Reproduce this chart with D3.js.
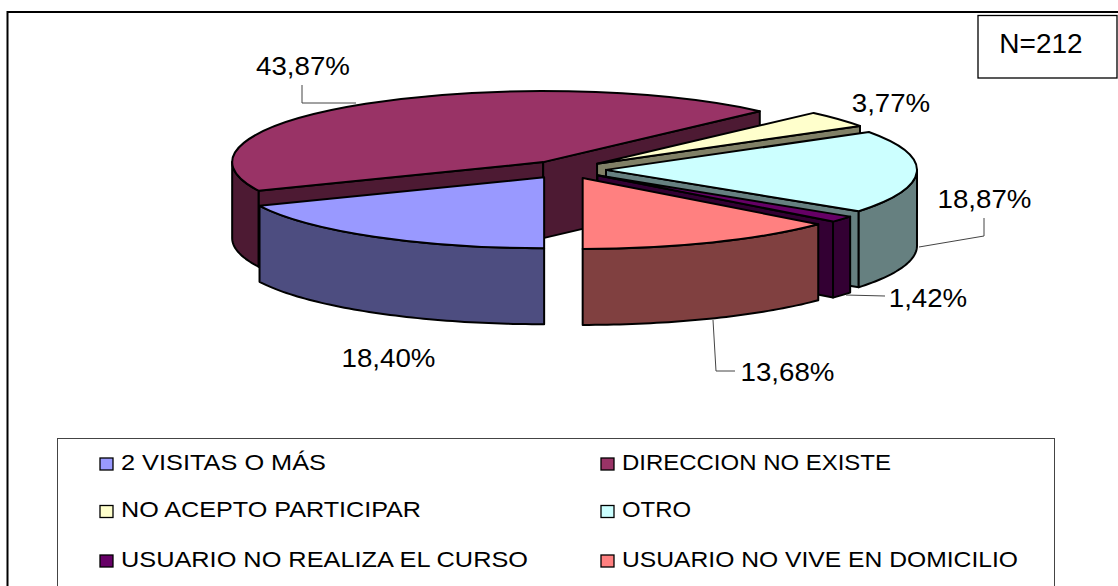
<!DOCTYPE html>
<html>
<head>
<meta charset="utf-8">
<script src="https://cdn.jsdelivr.net/npm/d3@7/dist/d3.min.js"></script>
<style>
html,body{margin:0;padding:0;background:#fff;overflow:hidden}
svg{display:block}
text{font-family:"Liberation Sans",Arial,sans-serif;fill:#000}
</style>
</head>
<body>
<svg id="chart" width="1118" height="586"></svg>
<script>
const categories = ["2 VISITAS O MÁS","DIRECCION NO EXISTE","NO ACEPTO PARTICIPAR","OTRO","USUARIO NO REALIZA EL CURSO","USUARIO NO VIVE EN DOMICILIO"];
const values = [18.40,43.87,3.77,18.87,1.42,13.68];
const valueLabels = ["18,40%","43,87%","3,77%","18,87%","1,42%","13,68%"];
const topColors = ["#9999FF","#993366","#FFFFCC","#CCFFFF","#660066","#FF8080"];
const sideColors = ["#4D4D80","#4D1A33","#808066","#668080","#330033","#804040"];
const drawOrder = [1,2,3,4,5,0];

const svg = d3.select("#chart");
const cx=566, cy=169.6, rx=311, ry=71, depth=76, explode=40;
const tilt=ry/rx;

const slices = d3.pie().sort(null).startAngle(Math.PI).endAngle(3*Math.PI)(values);
const arcGen = d3.arc().innerRadius(0).outerRadius(rx);
const lineGen = d3.line();

function apex(s){
  const m=(s.startAngle+s.endAngle)/2;
  return [cx+explode*Math.sin(m), cy-explode*tilt*Math.cos(m)];
}
function pt(a,ang,dz){ return [a[0]+rx*Math.sin(ang), a[1]-ry*Math.cos(ang)+(dz||0)]; }
function outerWall(a,a0,a1){
  const n=Math.max(2,Math.ceil((a1-a0)/0.02));
  const top=d3.range(n+1).map(i=>pt(a,a0+(a1-a0)*i/n,0));
  const bot=top.slice().reverse().map(p=>[p[0],p[1]+depth]);
  return lineGen(top.concat(bot))+"Z";
}
function radialWall(a,ang){
  const e=pt(a,ang,0);
  return lineGen([a,e,[e[0],e[1]+depth],[a[0],a[1]+depth]])+"Z";
}
const lw=2;
const pie=svg.append("g").attr("stroke","#000").attr("stroke-width",lw).attr("stroke-linejoin","round");

drawOrder.forEach(i=>{
  const s=slices[i], a=apex(s), g=pie.append("g");
  const side=sideColors[i];
  const a0=s.startAngle, a1=s.endAngle;
  if(Math.sin(a0)<-0.001) g.append("path").attr("d",radialWall(a,a0)).attr("fill",side);
  if(Math.sin(a1)>0.001) g.append("path").attr("d",radialWall(a,a1)).attr("fill",side);
  [[Math.PI/2,3*Math.PI/2],[5*Math.PI/2,7*Math.PI/2]].forEach(r=>{
    const l=Math.max(a0,r[0]), h=Math.min(a1,r[1]);
    if(h>l) g.append("path").attr("d",outerWall(a,l,h)).attr("fill",side);
  });
  g.append("path")
    .attr("d",arcGen({startAngle:a0,endAngle:a1}))
    .attr("transform",`translate(${a[0]},${a[1]}) scale(1,${tilt})`)
    .attr("vector-effect","non-scaling-stroke")
    .attr("fill",topColors[i]);
});

// outer frame, cut by the window on the right and at the bottom
svg.append("path").attr("d","M7.5,600V12H1130").attr("fill","none").attr("stroke","#000").attr("stroke-width",2);

// leader lines
const leaders=[
  [[302,85],[302,103],[356,103]],
  [[919,247],[984,236],[984,218]],
  [[846,295],[885,296]],
  [[713,320],[716,371],[735,371]]
];
leaders.forEach(p=>svg.append("path").attr("d",lineGen(p)).attr("fill","none").attr("stroke","#444").attr("stroke-width",1));

// value labels
const labelPos=[[388.5,367],[303,75],[891,112],[984.5,208],[928,307],[787.5,381]];
function stretched(sel,x,y,size,sx,anchor,txt){
  return sel.append("text").attr("transform",`translate(${x},${y}) scale(${sx},1)`)
    .attr("font-size",size).attr("text-anchor",anchor).text(txt);
}
valueLabels.forEach((t,i)=>stretched(svg,labelPos[i][0],labelPos[i][1],26,1.065,"middle",t));

// N box
svg.append("rect").attr("x",978).attr("y",15.5).attr("width",139).attr("height",62.5)
  .attr("fill","#fff").attr("stroke","#000").attr("stroke-width",1.3);
stretched(svg,1041,53,28,1,"middle","N=212");

// legend
svg.append("rect").attr("x",57.5).attr("y",438.5).attr("width",997).attr("height",200)
  .attr("fill","#fff").attr("stroke","#444").attr("stroke-width",1);
const legendX=d3.scaleOrdinal().domain([0,1]).range([100,601]);
const legendY=d3.scaleOrdinal().domain([0,1,2]).range([464,511.5,561]);
const legendTextWidths=[205,269,300,69,407,396];
categories.forEach((c,i)=>{
  const col=i%2,row=Math.floor(i/2),x=legendX(col),y=legendY(row);
  svg.append("rect").attr("x",x).attr("y",y-6).attr("width",13).attr("height",12)
    .attr("fill",topColors[i]).attr("stroke","#000").attr("stroke-width",1.3);
  svg.append("text").attr("x",x+21).attr("y",y+5.7).attr("font-size",22.5)
    .attr("textLength",legendTextWidths[i]).attr("lengthAdjust","spacingAndGlyphs").text(c);
});
</script>
</body>
</html>
